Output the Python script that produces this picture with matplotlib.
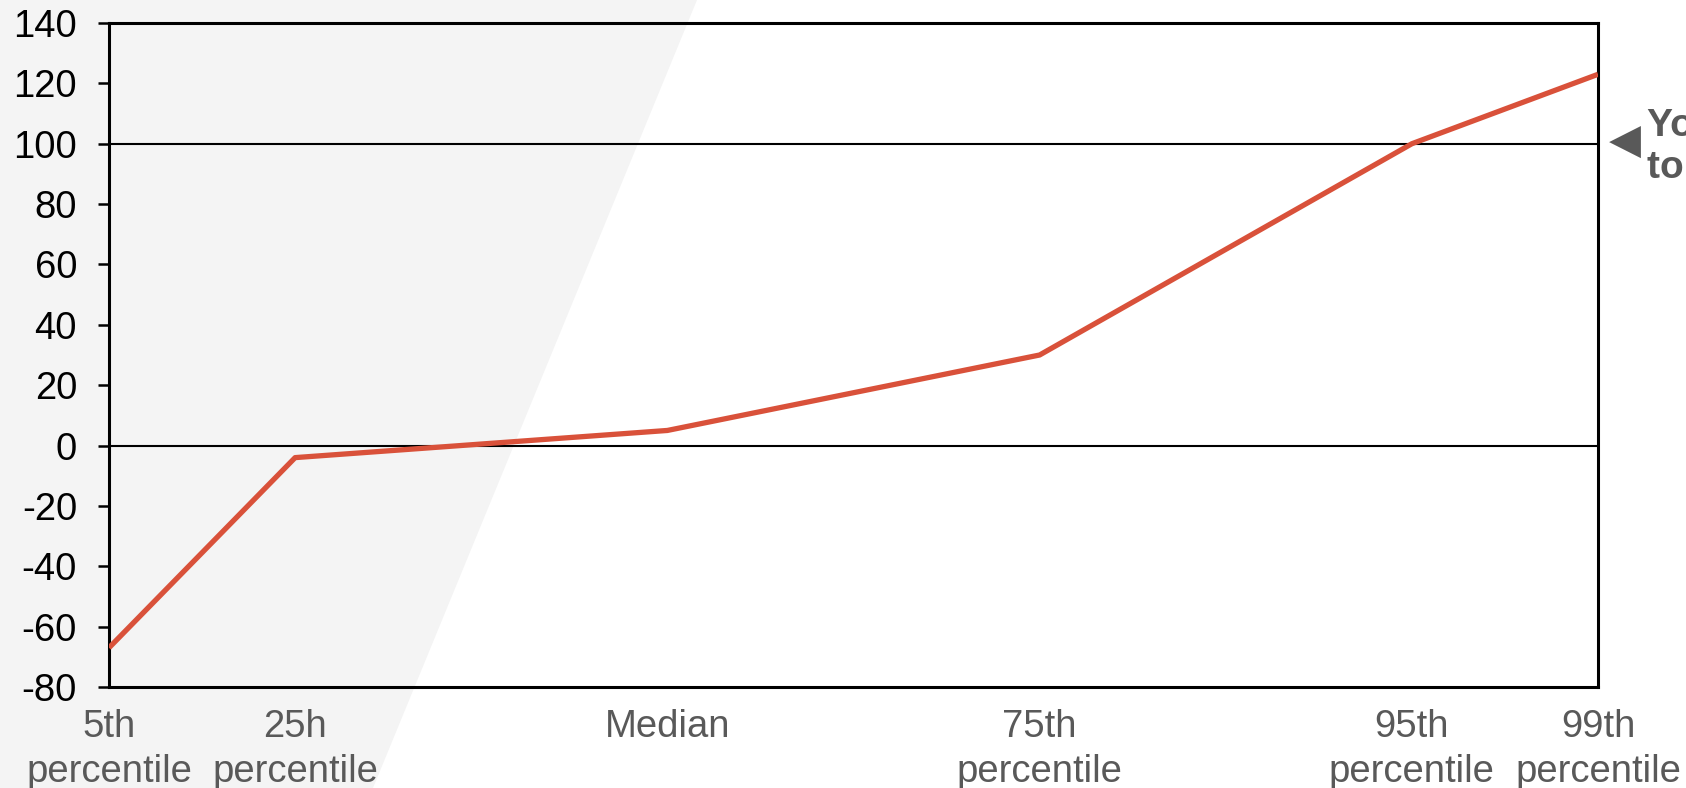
import matplotlib
matplotlib.use("Agg")
import matplotlib.pyplot as plt
from matplotlib.patches import Polygon

categories = ["5th\npercentile", "25h\npercentile", "Median", "75th\npercentile", "95th\npercentile", "99th\npercentile"]
positions = [0, 1, 3, 5, 7, 8]
values = [-67, -4, 5, 30, 100, 123]
yticks = [-80, -60, -40, -20, 0, 20, 40, 60, 80, 100, 120, 140]

plt.rcParams['font.family'] = ['Liberation Sans', 'DejaVu Sans']

W, H = 1686, 788
fig = plt.figure(figsize=(W / 100, H / 100), dpi=100)

# background axes holding the shaded band
bg = fig.add_axes([0, 0, 1, 1], zorder=-10)
bg.set_xlim(0, W)
bg.set_ylim(H, 0)
bg.axis('off')
bg.add_patch(Polygon([(0, 0), (697, 0), (373, H), (0, H)], closed=True,
                     facecolor='#f4f4f4', edgecolor='none'))

ax = fig.add_axes([109 / W, 1 - 687 / H, (1598 - 109) / W, (687 - 23) / H], zorder=1)
ax.patch.set_alpha(0)

ax.plot(positions, values, color='#d9513a', lw=3.8, zorder=3, solid_capstyle='butt')
for yv in (0, 100):
    ax.axhline(yv, color='black', lw=1.5, zorder=2)

ax.set_xlim(0, 8)
ax.set_ylim(-80, 140)
ax.set_yticks(yticks)
ax.set_yticklabels([str(v) for v in yticks])
ax.set_xticks(positions)
ax.set_xticklabels(categories, color='#595959', linespacing=1.3)
ax.tick_params(axis='y', length=8, width=1.8, labelsize=27.5, pad=15, colors='black')
ax.tick_params(axis='x', length=0, labelsize=27.5, pad=16)
for s in ax.spines.values():
    s.set_linewidth(2.2)
    s.set_color('black')

fig.text(1609 / W, 1 - 143 / H, "\u25C0", fontsize=30, color='#595959', va='center', ha='left')
fig.text(1647 / W, 1 - 147 / H, "Your result\ntop 1%", fontsize=28, fontweight='bold',
         color='#595959', va='center', ha='left', linespacing=1.2)

fig.savefig("out.png", dpi=100)
